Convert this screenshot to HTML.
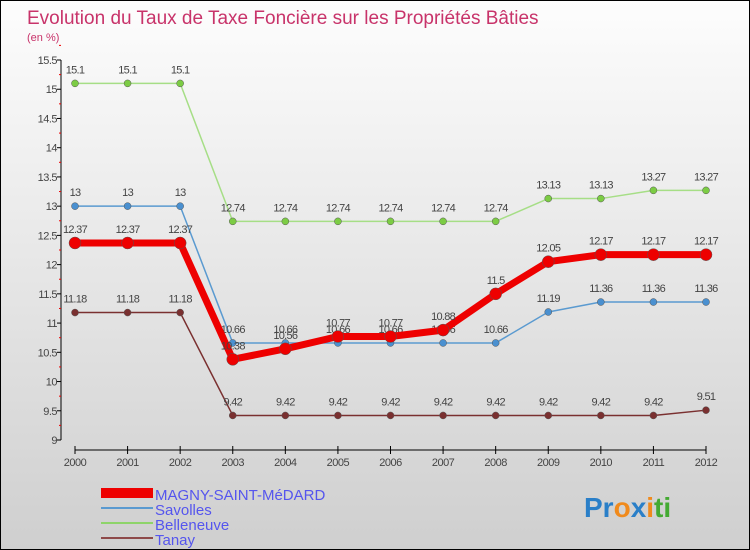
<!DOCTYPE html>
<html><head><meta charset="utf-8"><style>
body{margin:0}
#wrap{width:748px;height:548px;border:1px solid #000;background:linear-gradient(#fdfdfd,#cfcfcf);position:relative;overflow:hidden;font-family:"Liberation Sans",sans-serif}
</style></head><body>
<div id="wrap">
<svg id="svg" width="748" height="548">
<text x="26" y="23" font-size="19" fill="#c8336a">Evolution du Taux de Taxe Foncière sur les Propriétés Bâties</text>
<text x="26" y="40" font-size="11" fill="#c8336a">(en %)</text>
<g id="axes"></g><g id="series"></g>
<g>
<rect x="100" y="487" width="52" height="10" fill="#e00"/>
<text x="154" y="499" font-size="15" fill="#5555ee">MAGNY-SAINT-MéDARD</text>
<line x1="100" y1="507" x2="152" y2="507" stroke="#5a9ad0" stroke-width="2"/>
<text x="154" y="514" font-size="15" fill="#5555ee">Savolles</text>
<line x1="100" y1="522" x2="152" y2="522" stroke="#8ed46a" stroke-width="2"/>
<text x="154" y="529" font-size="15" fill="#5555ee">Belleneuve</text>
<line x1="100" y1="537" x2="152" y2="537" stroke="#8e4a4a" stroke-width="2"/>
<text x="154" y="544" font-size="15" fill="#5555ee">Tanay</text>
</g>
<text x="583" y="516" font-size="28" font-weight="bold"><tspan fill="#2a7fc8">Pr</tspan><tspan fill="#f08a1c">o</tspan><tspan fill="#2a7fc8">x</tspan><tspan fill="#f08a1c">i</tspan><tspan fill="#44aa33">ti</tspan></text>
</svg></div>
<script>
const years=[2000,2001,2002,2003,2004,2005,2006,2007,2008,2009,2010,2011,2012];
const yTicks=[9,9.5,10,10.5,11,11.5,12,12.5,13,13.5,14,14.5,15,15.5];
const magny=[12.37,12.37,12.37,10.38,10.56,10.77,10.77,10.88,11.5,12.05,12.17,12.17,12.17];
const savolles=[13,13,13,10.66,10.66,10.66,10.66,10.66,10.66,11.19,11.36,11.36,11.36];
const belleneuve=[15.1,15.1,15.1,12.74,12.74,12.74,12.74,12.74,12.74,13.13,13.13,13.27,13.27];
const tanay=[11.18,11.18,11.18,9.42,9.42,9.42,9.42,9.42,9.42,9.42,9.42,9.42,9.51];
const NS="http://www.w3.org/2000/svg";
const X=i=>74+i*(705-74)/(years.length-1);
const Y=v=>439-(v-9)*(439-59)/6.5;
function mk(t,a,p){const e=document.createElementNS(NS,t);for(const k in a)e.setAttribute(k,a[k]);p.appendChild(e);return e;}
const ax=document.getElementById('axes');
const yl=mk('line',{x1:60,y1:Y(15.5),x2:60,y2:Y(9),stroke:'#000'},ax);


yTicks.forEach(v=>{
 mk('line',{x1:56,y1:Y(v),x2:60,y2:Y(v),stroke:'#000'},ax);
 mk('line',{x1:58,y1:Y(v+0.25),x2:60,y2:Y(v+0.25),stroke:'#e00'},ax);
 const t=mk('text',{x:56,y:Y(v)+4,'font-size':11,fill:'#444','text-anchor':'end','letter-spacing':'-0.5'},ax);
 t.textContent=v;
 
 
});
const xl=mk('line',{x1:X(0),y1:449,x2:X(12),y2:449,stroke:'#000'},ax);


years.forEach((y,i)=>{
 mk('line',{x1:X(i),y1:445,x2:X(i),y2:453,stroke:'#000'},ax);
 const t=mk('text',{x:X(i),y:465,'font-size':11,fill:'#444','text-anchor':'middle','letter-spacing':'-0.5'},ax);
 t.textContent=y;
 
 
});
const sg=document.getElementById('series');
function draw(vals,color,dot,w,r,name){
 const g=mk('g',{},sg);
 
 
 const pl=mk('polyline',{points:vals.map((v,i)=>X(i)+','+Y(v)).join(' '),fill:'none',stroke:color,'stroke-width':w,'stroke-linejoin':'round'},g);
 
 
 vals.forEach((v,i)=>{
  const c=mk('circle',{cx:X(i),cy:Y(v),r:r,fill:dot,stroke:'#555','stroke-width':0.5},g);
  
  
  const t=mk('text',{x:X(i),y:Y(v)-10,'font-size':11,fill:'#444','text-anchor':'middle','letter-spacing':'-0.7'},g);
  t.textContent=v;
  
  
 });
}
draw(belleneuve,'#a6de86','#7ccc44',1.5,3.5,'belleneuve');
draw(savolles,'#5a9ad0','#4a90d0',1.5,3.5,'savolles');
draw(tanay,'#7a3030','#7a3030',1.5,3.5,'tanay');
draw(magny,'#ee0000','#ee0000',7,6,'magny');
</script></body></html>
